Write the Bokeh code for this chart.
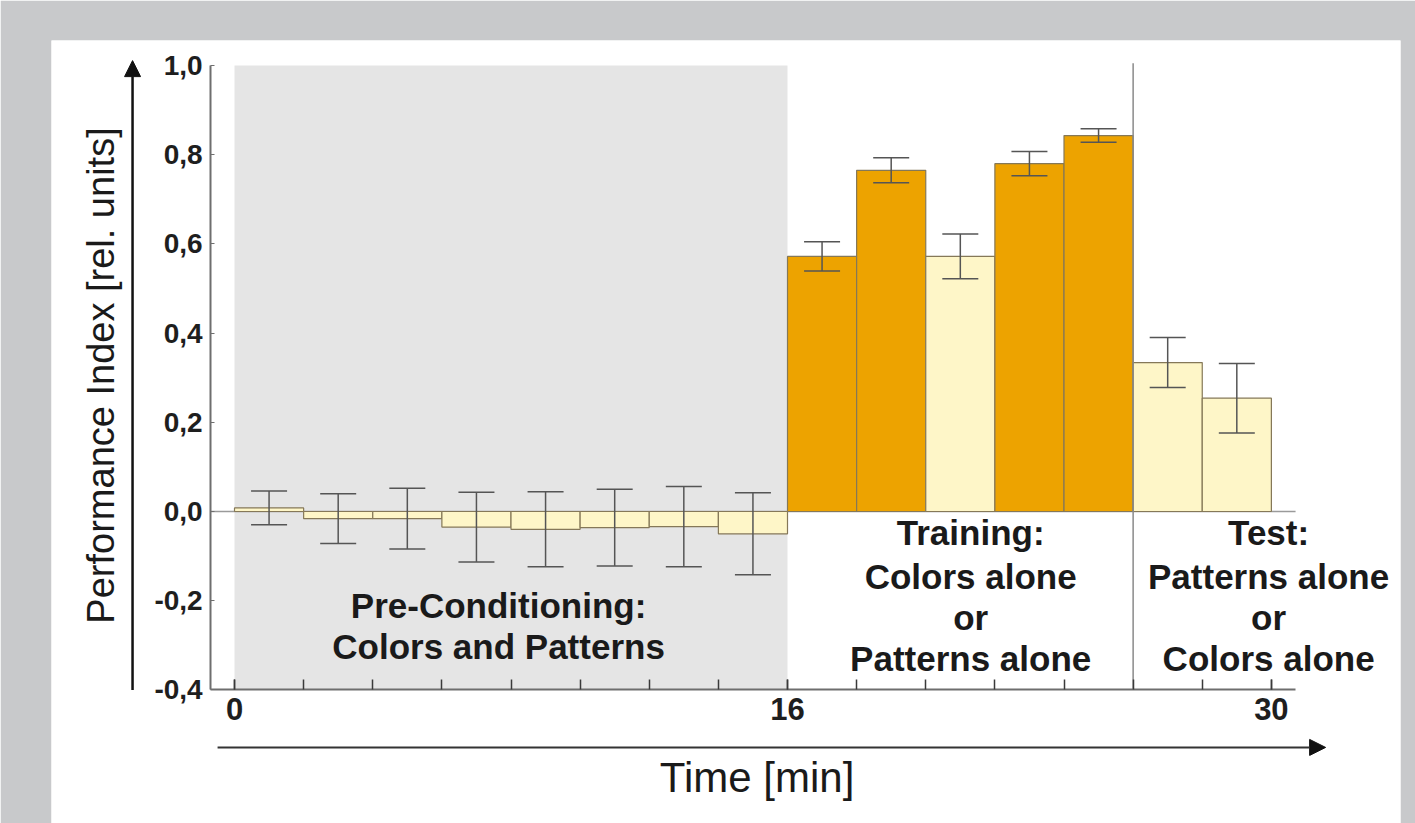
import math
import pandas as pd
from bokeh.plotting import figure
from bokeh.models import (ColumnDataSource, Range1d, LinearAxis, FixedTicker,
                          CustomJSTickFormatter, Whisker, TeeHead, Arrow,
                          NormalHead, Label)
from bokeh.core.properties import value
from bokeh.embed import file_html
from bokeh.resources import INLINE

# ---------------- data ----------------
bar_center = [1, 3, 5, 7, 9, 11, 13, 15, 17, 19, 21, 23, 25, 27, 29]
bar_value = [0.008, -0.016, -0.016, -0.035, -0.040, -0.036, -0.034, -0.050,
             0.572, 0.765, 0.572, 0.780, 0.843,
             0.334, 0.254]
bar_error = [0.038, 0.056, 0.068, 0.078, 0.084, 0.086, 0.090, 0.092,
             0.033, 0.028, 0.050, 0.027, 0.015,
             0.056, 0.078]
bar_kind = ["mixed"] * 8 + ["trained", "trained", "single", "trained", "trained"] + ["single", "single"]
bar_width = 2

y_ticks = [-0.4, -0.2, 0.0, 0.2, 0.4, 0.6, 0.8, 1.0]
x_major_ticks = [0, 16, 30]
x_minor_ticks = [0, 2, 4, 6, 8, 10, 12, 14, 16, 18, 20, 22, 24, 26, 28, 30]

precond_span = (0, 16)
test_start = 26

phase_lines = [
    ["Pre-Conditioning:", "Colors and Patterns"],
    ["Training:", "Colors alone", "or", "Patterns alone"],
    ["Test:", "Patterns alone", "or", "Colors alone"],
]

# ---------------- style ----------------
ORANGE = "#eda300"
LIGHT = "#fef6c8"
SHADE = "#e5e5e5"
OUTER = "#c8c9cb"
kind_color = {"mixed": LIGHT, "trained": ORANGE, "single": LIGHT}

df = pd.DataFrame({"x": bar_center, "v": bar_value, "e": bar_error, "kind": bar_kind})
df["upper"] = df["v"] + df["e"]
df["lower"] = df["v"] - df["e"]
df["color"] = df["kind"].map(kind_color)
src = ColumnDataSource(df)

p = figure(width=1415, height=823,
           x_range=Range1d(-5.295, 33.736), y_range=Range1d(-0.6996, 1.0561),
           output_backend="svg", toolbar_location=None,
           x_axis_type=None, y_axis_type=None,
           min_border_left=51, min_border_right=15, min_border_top=40, min_border_bottom=0,
           border_fill_color=OUTER, background_fill_color="white",
           outline_line_color=None)
p.xgrid.visible = False
p.ygrid.visible = False

x_lo, x_hi = -0.69, 30.7
y_lo, y_hi = y_ticks[0], y_ticks[-1]

# shaded pre-conditioning period
p.quad(left=[precond_span[0]], right=[precond_span[1]], bottom=[y_lo], top=[y_hi],
       fill_color=SHADE, line_color=None)

# zero line
p.line(x=[x_lo, x_hi], y=[0, 0], line_color="#9a9a9a", line_width=1.5)

# bars
p.vbar(x="x", width=bar_width, top="v", bottom=0, source=src,
       fill_color="color", line_color="#857858", line_width=1.2)

# divider training / test
p.line(x=[test_start, test_start], y=[y_lo, 1.005], line_color="#8a8a8a", line_width=1.5)

# error bars
p.add_layout(Whisker(source=src, base="x", upper="upper", lower="lower",
                     level="annotation",
                     line_color="#555555", line_width=1.5,
                     upper_head=TeeHead(size=36, line_color="#555555", line_width=1.5),
                     lower_head=TeeHead(size=36, line_color="#555555", line_width=1.5)))

# axes
yaxis = LinearAxis(fixed_location=x_lo, bounds=(y_lo, y_hi),
                   ticker=FixedTicker(ticks=y_ticks),
                   formatter=CustomJSTickFormatter(code="return tick.toFixed(1).replace('.', ',');"),
                   axis_line_color="#6e6e6e", axis_line_width=2,
                   major_tick_in=4, major_tick_out=0, major_tick_line_color="#6e6e6e",
                   minor_tick_line_color=None,
                   major_label_text_font="Liberation Sans",
                   major_label_text_font_style="bold",
                   major_label_text_font_size="28px",
                   major_label_text_color="#1e1e1e",
                   major_label_standoff=8)
p.add_layout(yaxis, "left")

xaxis = LinearAxis(fixed_location=y_lo, bounds=(x_lo, x_hi),
                   ticker=FixedTicker(ticks=x_major_ticks, minor_ticks=x_minor_ticks),
                   axis_line_color="#6e6e6e", axis_line_width=2,
                   major_tick_in=10, major_tick_out=0, major_tick_line_color="#3a3a3a",
                   major_tick_line_width=1.5,
                   minor_tick_in=10, minor_tick_out=0, minor_tick_line_color="#3a3a3a",
                   minor_tick_line_width=1.5,
                   major_label_text_font="Liberation Sans",
                   major_label_text_font_style="bold",
                   major_label_text_font_size="31px",
                   major_label_text_color="#1e1e1e",
                   major_label_standoff=8)
p.add_layout(xaxis, "below")

# axis arrows
p.add_layout(Arrow(end=NormalHead(size=16, fill_color="#111111", line_color="#111111"),
                   x_start=-2.95, y_start=y_lo, x_end=-2.95, y_end=1.011,
                   line_color="#111111", line_width=2.5))
p.add_layout(Arrow(end=NormalHead(size=16, fill_color="#111111", line_color="#111111"),
                   x_start=-0.49, y_start=-0.529, x_end=31.57, y_end=-0.529,
                   line_color="#333333", line_width=2))

# axis titles
p.add_layout(Label(x=-3.86, y=0.305, text="Performance Index [rel. units]",
                   angle=math.pi / 2, text_align="center", text_baseline="middle",
                   text_font="Liberation Sans", text_font_size="38px",
                   text_color="#1a1a1a"))
p.add_layout(Label(x=15.12, y=-0.596, text="Time [min]",
                   text_align="center", text_baseline="middle",
                   text_font="Liberation Sans", text_font_size="42px",
                   text_color="#1a1a1a"))

# phase annotations
phase_x = [7.64, 21.3, 29.92]
line_y = [[-0.211, -0.303], [-0.047, -0.146, -0.238, -0.330], [-0.047, -0.146, -0.238, -0.330]]
tx, ty, tt = [], [], []
for px_, ys, lines in zip(phase_x, line_y, phase_lines):
    for yy, t in zip(ys, lines):
        tx.append(px_)
        ty.append(yy)
        tt.append(t)
p.text(x=tx, y=ty, text=tt, text_align="center", text_baseline="middle",
       text_font=value("Liberation Sans"), text_font_style="bold",
       text_font_size=value("35px"), text_color="#1a1a1a")

open("out.html", "w").write(file_html(p, INLINE))
